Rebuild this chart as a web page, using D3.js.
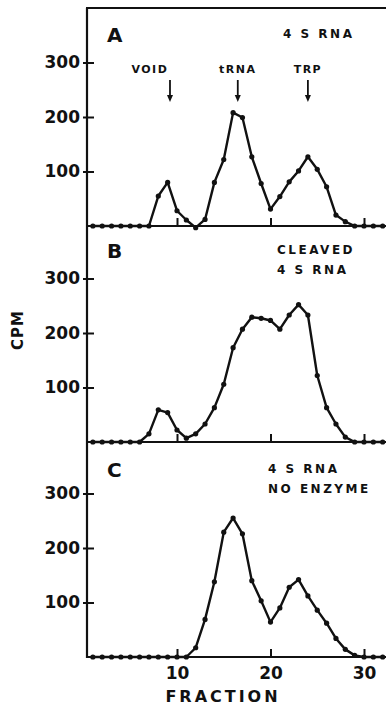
<!DOCTYPE html>
<html>
<head>
<meta charset="utf-8">
<script src="https://cdn.jsdelivr.net/npm/d3@7"></script>
<style>
  body { margin: 0; background: #fff; }
  text { font-family: "DejaVu Sans", sans-serif; fill: #111; }
</style>
</head>
<body>
<script>
const W = 386, H = 706

// fraction numbers and cpm per panel
const fractions = [1, 2, 3, 4, 5, 6, 7, 8, 9, 10, 11, 12, 13, 14, 15, 16,
  17, 18, 19, 20, 21, 22, 23, 24, 25, 26, 27, 28, 29, 30, 31, 32]
const cpmA = [0, 0, 0, 0, 0, 0, 0, 55, 80, 28, 11, -3, 12, 80, 122, 208,
  199, 127, 78, 31, 54, 81, 101, 127, 104, 72, 20, 8, 0, 0, 0, 0]
const cpmB = [0, 0, 0, 0, 0, 0, 15, 59, 54, 22, 7, 15, 33, 63, 106, 173,
  207, 229, 227, 223, 207, 233, 252, 233, 122, 63, 33, 9, 0, 0, 0, 0]
const cpmC = [0, 0, 0, 0, 0, 0, 0, 0, 0, 0, 0, 17, 69, 138, 229, 255,
  226, 140, 103, 64, 90, 128, 142, 112, 86, 62, 34, 14, 3, 0, 0, 0]

const panelLetters = ['A', 'B', 'C']
const panelTitles = [['4 S RNA'], ['CLEAVED', '4 S RNA'], ['4 S RNA', 'NO ENZYME']]
const yTicks = [100, 200, 300]
const xTicks = [10, 20, 30]

// markers in panel A
const markerNames = ['VOID', 'tRNA', 'TRP']
const markerFractions = [9.25, 16.5, 24]
const markerLabelFractions = [7.1, 16.5, 24]

const frameLeft = 87, frameRight = W, frameTop = 8
const baselines = [226, 442, 657]
const panelH = 218
const titleX = [283, 277, 268]
const titleDy = [30, 30, 34]

const x = d3.scaleLinear().domain([10, 30]).range([177, 364])

const svg = d3.select('body').append('svg')
  .attr('width', W)
  .attr('height', H)

const panels = [cpmA, cpmB, cpmC]

// frame: left spine + top line
svg.append('line')
  .attr('x1', frameLeft).attr('x2', frameLeft)
  .attr('y1', frameTop).attr('y2', baselines[2] + 1)
  .attr('stroke', '#111').attr('stroke-width', 2.2)
svg.append('line')
  .attr('x1', frameLeft - 1).attr('x2', frameRight)
  .attr('y1', frameTop).attr('y2', frameTop)
  .attr('stroke', '#111').attr('stroke-width', 2.2)

panels.forEach((vals, i) => {
  const base = baselines[i]
  const y = d3.scaleLinear().domain([0, 400]).range([base, base - panelH])
  const g = svg.append('g')

  // y axis ticks + labels
  const ya = g.append('g')
    .attr('transform', 'translate(' + frameLeft + ',0)')
    .call(d3.axisLeft(y).tickValues(yTicks).tickSize(-7).tickPadding(7))
  ya.select('.domain').remove()
  ya.selectAll('line').attr('x1', -4).attr('stroke', '#111').attr('stroke-width', 2)
  ya.selectAll('text')
    .style('font-size', '17px')
    .style('font-weight', 'bold')
    .attr('fill', '#111')

  // x baseline + ticks
  const xa = g.append('g')
    .attr('transform', 'translate(0,' + base + ')')
    .call(d3.axisBottom(x).tickValues(xTicks).tickSize(-8).tickPadding(10))
  xa.select('.domain').remove()
  xa.selectAll('line').attr('stroke', '#111').attr('stroke-width', 2)
  if (i < 2) xa.selectAll('text').remove()
  else xa.selectAll('text')
    .style('font-size', '17px')
    .style('font-weight', 'bold')
    .attr('fill', '#111')

  g.append('line')
    .attr('x1', frameLeft).attr('x2', frameRight)
    .attr('y1', base).attr('y2', base)
    .attr('stroke', '#111').attr('stroke-width', 2)

  // data line + dots
  const pts = fractions.map((f, j) => [f, vals[j]])
  const line = d3.line()
    .x(d => x(d[0]))
    .y(d => y(d[1]))
  g.append('path')
    .datum(pts)
    .attr('d', line)
    .attr('fill', 'none')
    .attr('stroke', '#111')
    .attr('stroke-width', 2.4)
    .attr('stroke-linejoin', 'round')
  g.selectAll('.dot').data(pts)
    .enter()
    .append('circle')
      .attr('cx', d => x(d[0]))
      .attr('cy', d => y(d[1]))
      .attr('r', 2.6)
      .attr('fill', '#111')

  // panel letter
  g.append('text')
    .attr('x', 107)
    .attr('y', y(400) + titleDy[i] + 4)
    .style('font-size', '20px')
    .style('font-weight', 'bold')
    .text(panelLetters[i])

  // panel title lines
  panelTitles[i].forEach((t, k) => {
    g.append('text')
      .attr('x', titleX[i])
      .attr('y', y(400) + titleDy[i] + k * 20)
      .style('font-size', '12px')
      .style('font-weight', 'bold')
      .style('letter-spacing', '2.5px')
      .text(t)
  })

  // markers for panel A
  if (i === 0) {
    markerNames.forEach((name, k) => {
      const ax = x(markerFractions[k])
      g.append('text')
        .attr('x', x(markerLabelFractions[k]))
        .attr('y', 73)
        .attr('text-anchor', 'middle')
        .style('font-size', '11px')
        .style('font-weight', 'bold')
        .style('letter-spacing', '1.5px')
        .text(name)
      g.append('line')
        .attr('x1', ax).attr('x2', ax)
        .attr('y1', 80).attr('y2', 97)
        .attr('stroke', '#111').attr('stroke-width', 1.8)
      g.append('path')
        .attr('d', 'M' + (ax - 3) + ',95 L' + (ax + 3) + ',95 L' + ax + ',102 Z')
        .attr('fill', '#111')
    })
  }
})

// axis titles
svg.append('text')
  .attr('text-anchor', 'middle')
  .attr('transform', 'translate(' + 23 + ',' + 330 + ')rotate(-90)')
  .style('font-size', '15px')
  .style('font-weight', 'bold')
  .style('letter-spacing', '1px')
  .text('CPM')

svg.append('text')
  .attr('text-anchor', 'middle')
  .attr('x', 223)
  .attr('y', 702)
  .style('font-size', '16px')
  .style('font-weight', 'bold')
  .style('letter-spacing', '3px')
  .text('FRACTION')
</script>
</body>
</html>
